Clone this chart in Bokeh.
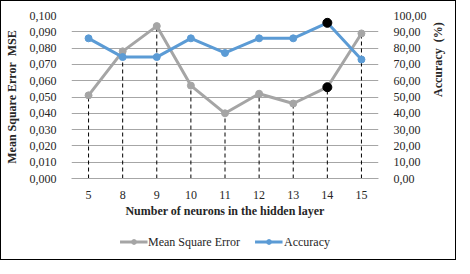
import math
from bokeh.plotting import figure
from bokeh.layouts import column
from bokeh.models import (ColumnDataSource, Range1d, LinearAxis, FixedTicker,
                          CustomJSTickFormatter, Legend, LegendItem)
from bokeh.embed import file_html
from bokeh.resources import INLINE

neurons = ["5", "8", "9", "10", "11", "12", "13", "14", "15"]
mse = [0.051, 0.078, 0.0935, 0.057, 0.040, 0.052, 0.046, 0.056, 0.089]
accuracy = [86.0, 74.5, 74.5, 86.0, 77.0, 86.0, 86.0, 95.5, 73.0]
highlight = ["14"]
mse_ticks = [i / 100 for i in range(0, 11)]
acc_ticks = list(range(0, 101, 10))

FONT = "Liberation Serif"
GRAY = "#A5A5A5"
BLUE = "#5B9BD5"
TXT = "#262626"

src = ColumnDataSource(dict(x=neurons, mse=mse, acc=accuracy, zero=[0] * len(neurons)))
hi_idx = [neurons.index(h) for h in highlight]
hsrc = ColumnDataSource(dict(x=highlight, mse=[mse[i] for i in hi_idx], acc=[accuracy[i] for i in hi_idx]))

p = figure(width=454, height=223, x_range=neurons, y_range=Range1d(0, 0.1),
           output_backend="svg", toolbar_location=None,
           min_border_left=69, min_border_right=77, min_border_top=14, min_border_bottom=46)
p.extra_y_ranges = {"acc": Range1d(0, 100)}
p.outline_line_color = None

# grid
p.xgrid.grid_line_color = None
p.ygrid.grid_line_color = "#A6A6A6"
p.ygrid.grid_line_width = 1

# left axis
la = p.yaxis[0]
la.ticker = FixedTicker(ticks=mse_ticks)
la.formatter = CustomJSTickFormatter(code="return tick.toFixed(3).replace('.', ',');")
la.axis_line_color = None
la.major_tick_line_color = None
la.minor_tick_line_color = None
la.major_label_standoff = 9
la.axis_label = "Mean Square Error\u00a0\u00a0MSE"
la.axis_label_standoff = 8

# right axis
ra = LinearAxis(y_range_name="acc")
ra.ticker = FixedTicker(ticks=acc_ticks)
ra.formatter = CustomJSTickFormatter(code="return tick.toFixed(2).replace('.', ',');")
ra.axis_line_color = None
ra.major_tick_line_color = None
ra.minor_tick_line_color = None
ra.major_label_standoff = 9
ra.axis_label = "Accuracy\u00a0\u00a0(%)"
ra.axis_label_standoff = 8
ra.axis_label_orientation = math.pi / 2
p.add_layout(ra, "right")

# x axis
xa = p.xaxis[0]
xa.axis_line_color = "#A6A6A6"
xa.major_tick_line_color = None
xa.minor_tick_line_color = None
xa.major_label_standoff = 6
xa.axis_label = "Number of neurons in the hidden layer"
xa.axis_label_standoff = 2

for ax in (la, ra, xa):
    ax.major_label_text_font = FONT
    ax.major_label_text_font_size = "12px"
    ax.major_label_text_color = TXT
    ax.axis_label_text_font = FONT
    ax.axis_label_text_font_size = "12px"
    ax.axis_label_text_font_style = "bold"
    ax.axis_label_text_color = TXT

# drop lines
p.segment(x0="x", y0="zero", x1="x", y1="mse", source=src, line_color="black",
          line_width=1, line_dash="4 3")

p.line("x", "mse", source=src, line_color=GRAY, line_width=3)
p.scatter("x", "mse", source=src, size=7, fill_color=GRAY, line_color=GRAY)
p.line("x", "acc", source=src, line_color=BLUE, line_width=3, y_range_name="acc")
p.scatter("x", "acc", source=src, size=7, fill_color=BLUE, line_color=BLUE, y_range_name="acc")

p.scatter("x", "mse", source=hsrc, size=9, fill_color="black", line_color="black")
p.scatter("x", "acc", source=hsrc, size=9, fill_color="black", line_color="black", y_range_name="acc")

# legend strip: same series drawn out of view, used only for the legend
lg = figure(width=454, height=35, x_range=neurons, y_range=Range1d(10, 11),
            output_backend="svg", toolbar_location=None,
            x_axis_type=None, y_axis_type=None,
            min_border_left=0, min_border_right=0, min_border_top=0, min_border_bottom=0)
lg.outline_line_color = None
lg.grid.grid_line_color = None
l1 = lg.line("x", "mse", source=src, line_color=GRAY, line_width=3)
s1 = lg.scatter("x", "mse", source=src, size=5, fill_color=GRAY, line_color=GRAY)
l2 = lg.line("x", "acc", source=src, line_color=BLUE, line_width=3)
s2 = lg.scatter("x", "acc", source=src, size=5, fill_color=BLUE, line_color=BLUE)

legend = Legend(items=[LegendItem(label="Mean Square Error", renderers=[l1, s1]),
                       LegendItem(label="Accuracy", renderers=[l2, s2])],
                orientation="horizontal", location="center",
                label_text_font=FONT, label_text_font_size="12px", label_text_color=TXT,
                glyph_width=28, glyph_height=12, label_standoff=1, spacing=15, padding=0, margin=0,
                border_line_color=None, background_fill_alpha=0)
lg.add_layout(legend, "center")

layout = column(p, lg, spacing=0)
layout.styles = {"border": "1px solid black"}

open("out.html", "w").write(file_html(layout, INLINE))
